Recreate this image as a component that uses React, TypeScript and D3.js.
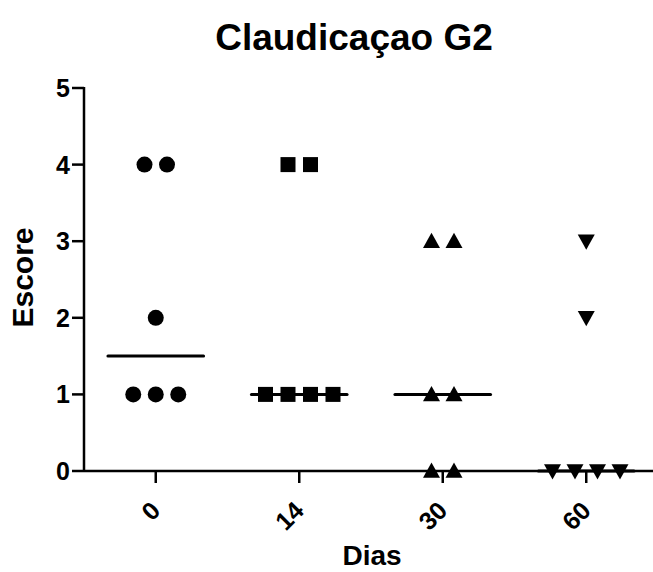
import React from 'react';
import * as d3 from 'd3';

const days = ['0', '14', '30', '60'];
const dia0 = [4, 4, 2, 1, 1, 1];
const dia14 = [4, 4, 1, 1, 1, 1];
const dia30 = [3, 3, 1, 1, 0, 0];
const dia60 = [3, 2, 0, 0, 0, 0];
const yTicks = [0, 1, 2, 3, 4, 5];

const groups = [dia0, dia14, dia30, dia60];
const shapes = ['circle', 'square', 'up', 'down'];

const W = 653;
const H = 572;

// spread equal values side by side, like a column scatter
function spread(values: number[]) {
  const out: { v: number; off: number }[] = [];
  const counts = d3.rollup(values, (v) => v.length, (d) => d);
  const seen = new Map<number, number>();
  for (const v of values) {
    const n = counts.get(v) || 1;
    const k = seen.get(v) || 0;
    seen.set(v, k + 1);
    out.push({ v, off: k - (n - 1) / 2 });
  }
  return out;
}

function marker(shape: string, x: number, y: number, key: string) {
  if (shape === 'circle') return <circle key={key} cx={x} cy={y} r={8} fill="#000" />;
  if (shape === 'square') return <rect key={key} x={x - 7.5} y={y - 7.5} width={15} height={15} fill="#000" />;
  const s = 8.5;
  const pts =
    shape === 'up'
      ? [[x, y - s], [x + s, y + s * 0.8], [x - s, y + s * 0.8]]
      : [[x, y + s], [x + s, y - s * 0.8], [x - s, y - s * 0.8]];
  return <polygon key={key} points={pts.map((p) => p.join(',')).join(' ')} fill="#000" />;
}

export default function App() {
  const left = 84;
  const x = d3.scalePoint().domain(days).range([left, 658]).padding(0.5);
  const y = d3.scaleLinear().domain([0, 5]).range([471, 88]);
  const step = x.step();
  const font = 'Liberation Sans, Arial, sans-serif';

  return (
    <svg width={W} height={H} style={{ display: 'block', position: 'absolute', left: 0, top: 0 }}>
      <rect width={W} height={H} fill="#fff" />
      <text x={354} y={50} textAnchor="middle" fontFamily={font} fontWeight="bold" fontSize={37}>
        Claudicaçao G2
      </text>

      {/* y axis */}
      <line x1={left} x2={left} y1={y(5) - 1} y2={y(0)} stroke="#000" strokeWidth={2.5} />
      {yTicks.map((t) => (
        <g key={t}>
          <line x1={left - 12} x2={left} y1={y(t)} y2={y(t)} stroke="#000" strokeWidth={2.5} />
          <text x={left - 14} y={y(t) + 9} textAnchor="end" fontFamily={font} fontWeight="bold" fontSize={25}>
            {t}
          </text>
        </g>
      ))}
      <text
        transform={`translate(33,${y(2.5) - 2}) rotate(-90)`}
        textAnchor="middle"
        fontFamily={font}
        fontWeight="bold"
        fontSize={30}
      >
        Escore
      </text>

      {/* x axis */}
      <line x1={left} x2={W} y1={y(0)} y2={y(0)} stroke="#000" strokeWidth={2.5} />
      {days.map((d) => (
        <g key={d}>
          <line x1={x(d)!} x2={x(d)!} y1={y(0)} y2={y(0) + 12} stroke="#000" strokeWidth={2.5} />
          <text
            transform={`translate(${x(d)!},${y(0) + 35}) rotate(-45)`}
            textAnchor="end"
            dy="0.35em"
            fontFamily={font}
            fontWeight="bold"
            fontSize={25}
          >
            {d}
          </text>
        </g>
      ))}
      <text x={372} y={565} textAnchor="middle" fontFamily={font} fontWeight="bold" fontSize={28}>
        Dias
      </text>

      {/* points and medians */}
      {groups.map((vals, gi) => {
        const cx = x(days[gi])!;
        const med = d3.median(vals)!;
        return (
          <g key={gi}>
            <line
              x1={cx - step / 3}
              x2={cx + step / 3}
              y1={y(med)}
              y2={y(med)}
              stroke="#000"
              strokeWidth={3}
              strokeLinecap="round"
            />
            {spread(vals).map((p, i) => marker(shapes[gi], cx + p.off * 22.5, y(p.v), `${gi}-${i}`))}
          </g>
        );
      })}
    </svg>
  );
}
